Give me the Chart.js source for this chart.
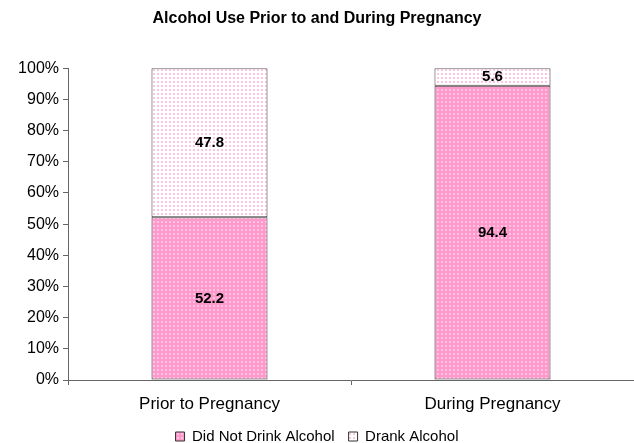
<!DOCTYPE html>
<html>
<head>
<meta charset="utf-8">
<script src="https://cdn.jsdelivr.net/npm/chart.js@4"></script>
<style>
  html, body { margin: 0; padding: 0; background: #fff; overflow: hidden; }
  #wrap { width: 634px; height: 454px; }
</style>
</head>
<body>
<div id="wrap"><canvas id="myBarChart"></canvas></div>
<script>
Chart.defaults.responsive = true;
Chart.defaults.maintainAspectRatio = false;
Chart.defaults.font.family = "'Liberation Sans', Arial, sans-serif";
Chart.defaults.color = '#000';

// 데이터
const categories = ['Prior to Pregnancy', 'During Pregnancy'];
const didNotDrink = [52.2, 94.4];
const drank = [47.8, 5.6];
const yTicks = [0, 10, 20, 30, 40, 50, 60, 70, 80, 90, 100];

// 점무늬 패턴
function dotPattern(bg, dot) {
  const c = document.createElement('canvas');
  c.width = 4; c.height = 4;
  const g = c.getContext('2d');
  g.fillStyle = bg;
  g.fillRect(0, 0, 4, 4);
  g.fillStyle = dot;
  g.fillRect(1, 1, 2, 2);
  return g.createPattern(c, 'repeat');
}
const ctx = document.getElementById('myBarChart').getContext('2d');
const pinkFill = dotPattern('#ff99cc', '#ffc4e2');
const lightFill = dotPattern('#ffffff', '#ffc6e3');

// 막대 가운데 값 표시
const valueLabels = {
  id: 'valueLabels',
  afterDatasetsDraw(chart) {
    const c = chart.ctx;
    c.save();
    c.font = "bold 15px 'Liberation Sans', Arial, sans-serif";
    c.fillStyle = '#000';
    c.textAlign = 'center';
    c.textBaseline = 'middle';
    chart.data.datasets.forEach((ds, i) => {
      chart.getDatasetMeta(i).data.forEach((bar, j) => {
        const y = (bar.y + bar.base) / 2;
        c.fillText(ds.data[j].toFixed(1), bar.x, y);
      });
    });
    c.restore();
  }
};

new Chart(ctx, {
  type: 'bar',
  data: {
    labels: categories,
    datasets: [{
      label: 'Did Not Drink Alcohol',
      data: didNotDrink,
      backgroundColor: pinkFill,
      borderColor: '#333',
      borderWidth: 1,
      borderSkipped: false,
      barPercentage: 0.41,
      categoryPercentage: 1
    }, {
      label: 'Drank Alcohol',
      data: drank,
      backgroundColor: lightFill,
      borderColor: '#333',
      borderWidth: 1,
      borderSkipped: false,
      barPercentage: 0.41,
      categoryPercentage: 1
    }]
  },
  options: {
    animation: false,
    layout: { padding: { left: 0, right: 0, top: 3, bottom: 0 } },
    plugins: {
      title: {
        display: true,
        text: 'Alcohol Use Prior to and During Pregnancy',
        font: { size: 16, weight: 'bold' },
        padding: { top: 6, bottom: 40 }
      },
      legend: {
        position: 'bottom',
        labels: {
          boxWidth: 9,
          boxHeight: 9,
          font: { size: 15 },
          padding: 14
        }
      },
      tooltip: { enabled: false }
    },
    scales: {
      x: {
        stacked: true,
        afterFit(scale) { scale.height = 35; },
        grid: { drawOnChartArea: false, tickLength: 5, color: '#666' },
        border: { color: '#666' },
        ticks: { font: { size: 17 }, padding: 9 }
      },
      y: {
        stacked: true,
        min: 0,
        max: 100,
        afterBuildTicks(scale) { scale.ticks = yTicks.map(v => ({ value: v })); },
        afterFit(scale) { scale.width = 68; },
        grid: { drawOnChartArea: false, tickLength: 5, color: '#666' },
        border: { color: '#666' },
        ticks: { font: { size: 16 }, padding: 4, callback: v => v + '%' }
      }
    }
  },
  plugins: [valueLabels]
});
</script>
</body>
</html>
